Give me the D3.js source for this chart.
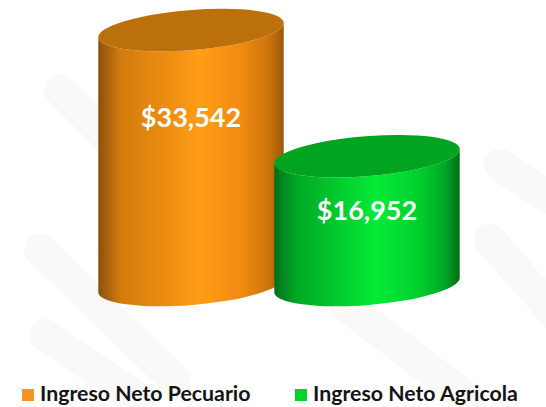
<!DOCTYPE html>
<html><head><meta charset="utf-8">
<script src="https://cdn.jsdelivr.net/npm/d3@7/dist/d3.min.js"></script>
<style>html,body{margin:0;padding:0;background:#fff;}svg{display:block;}</style>
</head><body>
<script>
const categories = ["Ingreso Neto Pecuario", "Ingreso Neto Agricola"];
const values = [33542, 16952];
const labels = ["$33,542", "$16,952"];
const colors = ["#f7941d", "#00d42c"];

const W = 546, H = 407;
const svg = d3.select("body").append("svg").attr("width", W).attr("height", H);
const defs = svg.append("defs");

// faint decorative background bands
const bands = [[[40,250],[175,380]],[[45,335],[140,400]],[[345,305],[470,400]],[[490,240],[560,320]],[[500,165],[560,205]],[[60,90],[120,150]]];
svg.append("g").selectAll("line").data(bands).join("line")
  .attr("x1", d => d[0][0]).attr("y1", d => d[0][1]).attr("x2", d => d[1][0]).attr("y2", d => d[1][1])
  .attr("stroke", "#faf9f7").attr("stroke-width", 32).attr("stroke-linecap", "round");

const x = d3.scalePoint().domain(categories).range([191, 367]);
const y = d3.scaleLinear().domain([0, 35000]).range([285, 19]);
const a = 93, b = 20, rot = -4.6;
const th = rot * Math.PI / 180;

const gradStops = [
  [["0%","#8a4f0c"],["12%","#d27c0e"],["35%","#eb8c10"],["55%","#ff9d16"],["78%","#f08a12"],["92%","#cc740c"],["100%","#9a580a"]],
  [["0%","#00701a"],["12%","#00a824"],["35%","#02cc2e"],["55%","#06ea36"],["78%","#00d02e"],["92%","#00a624"],["100%","#006e16"]]
];
const topColors = ["#bb700c", "#00a41e"];

categories.forEach((c, i) => {
  const g = defs.append("linearGradient").attr("id", "g" + i).attr("x1", "0%").attr("x2", "100%").attr("y1", "0%").attr("y2", "0%");
  gradStops[i].forEach(s => g.append("stop").attr("offset", s[0]).attr("stop-color", s[1]));
});

const ends = (cx, cy) => {
  const dx = a * Math.cos(th), dy = a * Math.sin(th);
  return {L: [cx - dx, cy - dy], R: [cx + dx, cy + dy]};
};

const gBars = svg.append("g");
categories.forEach((c, i) => {
  const cx = x(c), cyTop = y(values[i]), cyBot = y(0);
  const t = ends(cx, cyTop), bo = ends(cx, cyBot);
  const body = `M${t.L}L${bo.L}A${a},${b} ${rot} 0 0 ${bo.R}L${t.R}A${a},${b} ${rot} 0 1 ${t.L}Z`;
  gBars.append("path").attr("d", body).attr("fill", `url(#g${i})`);
  gBars.append("ellipse").attr("cx", cx).attr("cy", cyTop).attr("rx", a).attr("ry", b)
    .attr("transform", `rotate(${rot},${cx},${cyTop})`).attr("fill", topColors[i]);
  const h = cyBot - cyTop;
  gBars.append("text").attr("x", cx).attr("y", cyTop + 20 + 0.264 * h)
    .attr("dy", "0.35em").attr("text-anchor", "middle")
    .attr("font-family", "Lato, 'Open Sans', sans-serif").attr("font-weight", "bold")
    .attr("font-size", 27).attr("fill", "#fff").text(labels[i]);
});

// legend
const lx = [22, 295];
const leg = svg.append("g");
categories.forEach((c, i) => {
  leg.append("rect").attr("x", lx[i]).attr("y", 389).attr("width", 12).attr("height", 12).attr("fill", colors[i]);
  leg.append("text").attr("x", lx[i] + 18).attr("y", 401)
    .attr("font-family", "Lato, 'Open Sans', sans-serif").attr("font-weight", "bold")
    .attr("font-size", 21.3).attr("fill", "#141414").text(c);
});
</script>
</body></html>
